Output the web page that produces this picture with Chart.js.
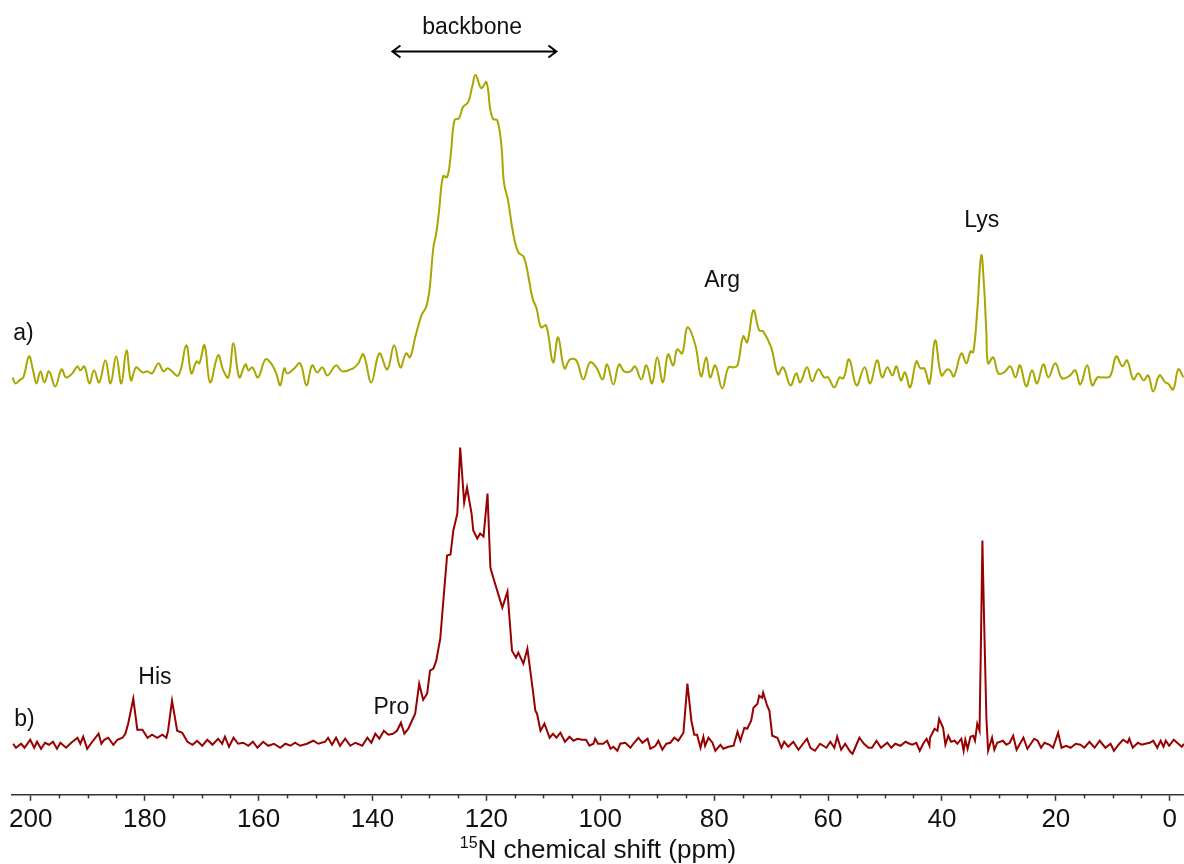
<!DOCTYPE html>
<html>
<head>
<meta charset="utf-8">
<script src="https://cdn.jsdelivr.net/npm/chart.js@4.4.0/dist/chart.umd.min.js"></script>
<style>
  html, body { margin: 0; padding: 0; background: #fff; }
  #wrap { width: 1184px; height: 864px; position: relative; }
</style>
</head>
<body>
<div id="wrap"><canvas id="nmrChart"></canvas></div>
<script>
// spectrum a) - ppm positions and intensities (arbitrary units)
const ppmA = [203.2, 202.7, 201.8, 201.3, 200.3, 199.6, 199.0, 198.3, 197.6, 196.8, 195.7, 194.6, 193.8, 192.7, 191.8, 191.3, 190.6, 189.7, 188.9, 188.0,
  186.9, 186.0, 185.0, 184.1, 183.2, 182.4, 181.5, 180.4, 179.5, 178.7, 177.6, 176.7, 175.9, 174.1, 172.7, 171.8, 170.9, 170.4, 169.5, 168.5,
  167.1, 166.2, 165.3, 164.4, 163.4, 162.3, 161.8, 161.1, 160.1, 158.8, 157.8, 156.9, 156.2, 155.5, 155.0, 153.9, 152.7, 151.6, 150.6, 149.7,
  148.8, 147.9, 146.4, 145.3, 143.4, 142.5, 141.6, 140.2, 138.8, 137.4, 136.2, 135.1, 134.1, 133.4, 132.5, 131.4, 130.6, 130.0, 129.3, 128.8,
  128.3, 127.6, 126.9, 126.3, 125.6, 124.8, 124.1, 123.2, 122.5, 121.9, 120.9, 120.0, 119.3, 118.8, 118.1, 117.4, 116.9, 116.2, 115.3, 114.4,
  113.4, 112.6, 111.9, 111.2, 110.4, 109.5, 108.3, 107.4, 106.3, 105.3, 104.2, 103.0, 101.8, 100.7, 99.6, 98.8, 97.7, 96.7, 95.8, 94.7,
  93.9, 92.8, 91.9, 90.9, 90.0, 89.0, 88.1, 87.2, 86.5, 85.6, 84.7, 83.3, 82.3, 81.4, 80.7, 79.8, 78.6, 77.5, 76.6, 75.9,
  74.9, 74.2, 73.1, 72.1, 71.4, 70.0, 68.8, 67.9, 66.6, 65.6, 64.9, 63.7, 62.8, 61.7, 60.7, 60.0, 58.9, 58.0, 57.3, 56.3,
  55.0, 53.6, 52.6, 51.4, 50.5, 49.6, 48.7, 48.0, 47.2, 46.5, 45.6, 44.5, 43.8, 43.1, 42.2, 41.2, 40.1, 39.1, 38.6, 37.9,
  36.6, 35.7, 35.0, 34.5, 33.8, 33.1, 32.6, 32.2, 31.9, 31.0, 30.1, 29.1, 28.0, 27.1, 26.3, 25.2, 24.2, 23.3, 22.2, 21.3,
  20.1, 18.9, 17.5, 16.6, 15.7, 14.5, 13.6, 12.7, 11.9, 10.5, 9.4, 8.3, 7.5, 6.4, 5.5, 4.6, 3.8, 2.9, 1.8, 0.8,
  0.3, -0.6, -1.5, -2.4];
const intA = [-5, -11, -7, -5, 16, 2, -11, 1, -10, 1, -14, 3, -5, -1, 6, 2, 6, -11, 2, -10,
  12, -11, 16, -11, 22, -8, 5, 0, 1, -1, 9, 1, 4, -3, 27, -1, 11, 9, 27, -10,
  17, 2, -5, 29, -5, 8, 2, 5, -5, 13, 9, -1, -13, 4, -1, 3, 9, -13, 7, 0,
  5, -3, 7, 1, 4, 9, 18, -10, 19, 3, 27, 5, 19, 15, 35, 57, 65, 82, 125, 139,
  162, 196, 195, 215, 252, 254, 265, 270, 285, 297, 284, 290, 262, 253, 252, 229, 189, 172, 139, 120,
  115, 95, 74, 64, 45, 47, 10, 35, 4, 13, 12, -7, 10, 5, -7, 8, -12, 8, 1, 1,
  6, -7, 7, -11, 15, -10, 18, 7, 23, 19, 45, 27, -4, 15, -5, 7, -16, 5, 5, 7,
  36, 30, 62, 42, 41, 25, -2, 5, -13, -1, -10, 5, -9, 3, -5, -5, -15, -5, -6, 13,
  -13, 5, -11, 12, -5, 5, -3, 6, -8, 0, -15, 11, 4, 4, -11, 32, -3, 3, 2, -4,
  19, 9, 21, 20, 62, 117, 85, 39, 9, 15, -1, 0, 6, -5, 7, -14, 2, -11, 8, -5,
  9, -6, -3, 2, -12, 7, -13, -5, -5, -4, 16, 6, 12, -7, -1, -8, -3, -19, -3, -10,
  -11, -17, 3, -5];

// spectrum b)
const ppmB = [203.1, 202.6, 201.7, 201.1, 200.1, 199.4, 198.9, 198.2, 197.5, 196.8, 196.1, 195.4, 194.8, 193.8, 192.9, 191.8, 191.3, 190.8, 190.1, 189.2,
  188.1, 187.6, 187.1, 186.4, 185.5, 184.8, 183.9, 183.4, 182.9, 182.0, 181.3, 180.4, 179.5, 178.7, 177.8, 176.9, 176.2, 175.9, 175.2, 174.3,
  173.4, 172.5, 171.6, 170.8, 169.9, 169.0, 168.1, 167.1, 166.4, 165.9, 165.2, 164.4, 163.6, 162.7, 161.8, 161.0, 160.2, 159.2, 158.3, 157.3,
  156.2, 155.3, 154.4, 153.6, 152.7, 151.5, 150.4, 149.5, 148.3, 147.8, 147.1, 146.4, 145.7, 144.8, 143.9, 143.0, 141.8, 140.9, 140.2, 139.5,
  138.8, 138.0, 137.2, 136.4, 135.7, 135.0, 134.4, 133.7, 133.0, 132.5, 131.8, 131.1, 130.4, 129.9, 129.3, 128.8, 128.1, 127.6, 126.9, 126.3,
  125.8, 125.1, 124.6, 123.9, 123.4, 122.6, 122.3, 121.6, 121.1, 120.5, 119.8, 119.3, 118.8, 118.1, 117.2, 116.3, 115.5, 114.8, 114.4, 113.5,
  112.8, 111.9, 111.4, 111.1, 110.5, 109.8, 108.9, 108.3, 107.7, 107.0, 106.2, 105.4, 104.7, 104.0, 103.2, 102.5, 101.9, 101.2, 100.9, 100.4,
  99.5, 98.8, 98.2, 97.7, 97.0, 96.5, 95.6, 94.7, 94.2, 93.3, 92.6, 91.7, 91.2, 90.3, 89.8, 89.1, 88.4, 87.7, 87.0, 86.3,
  85.4, 84.7, 84.0, 83.5, 83.0, 82.4, 81.9, 81.6, 81.0, 80.3, 79.8, 78.9, 78.4, 77.5, 76.6, 75.9, 75.4, 74.7, 74.2, 73.5,
  73.1, 72.4, 72.1, 71.6, 71.4, 70.7, 70.3, 69.8, 68.9, 68.2, 67.7, 67.0, 66.1, 65.2, 64.4, 63.7, 63.1, 62.3, 61.4, 60.3,
  59.6, 58.9, 58.4, 57.7, 57.0, 56.1, 55.7, 55.1, 54.5, 53.7, 52.9, 52.3, 51.5, 50.7, 49.6, 48.9, 48.2, 47.3, 46.4, 45.7,
  45.2, 44.5, 43.9, 43.3, 42.7, 42.2, 42.1, 41.3, 40.8, 40.5, 39.8, 39.4, 38.9, 38.4, 37.8, 37.3, 36.6, 36.2, 35.9, 35.5,
  35.0, 34.5, 34.2, 33.8, 33.4, 33.1, 32.9, 32.8, 32.6, 32.2, 31.9, 31.2, 30.8, 30.3, 29.3, 28.7, 28.1, 27.5, 26.9, 26.3,
  25.7, 25.0, 24.4, 23.8, 23.2, 22.6, 22.0, 21.1, 20.5, 19.6, 19.0, 18.2, 17.4, 16.5, 15.7, 15.0, 14.1, 13.2, 12.3, 11.3,
  10.4, 9.8, 9.0, 8.2, 7.4, 7.1, 6.5, 5.6, 4.9, 4.3, 3.5, 2.9, 2.2, 1.6, 1.1, 0.7, 0.1, -0.7, -1.3, -2.1,
  -2.5];
const intB = [-1, -5, -1, -5, 3, -5, 1, -6, 0, -2, 1, -6, 0, -5, 0, 5, -1, 6, -6, 1,
  9, -1, 3, 5, -2, 3, 5, 9, 19, 44, 13, 13, 5, 8, 5, 8, 5, 12, 42, 12,
  10, 1, -2, 2, -3, 3, -2, 4, -1, 6, -4, 5, -1, 0, -3, 1, -5, 1, -3, -1,
  -5, -1, -3, 0, -3, -1, 2, -1, 1, 5, -2, 5, -3, 4, -3, 0, -3, 5, 0, 9,
  4, 12, 8, 9, 12, 20, 9, 14, 23, 29, 59, 43, 49, 72, 74, 82, 104, 139, 187, 188,
  212, 229, 295, 240, 255, 229, 212, 204, 209, 206, 249, 175, 165, 152, 135, 151, 92, 85, 90, 79,
  94, 55, 32, 29, 12, 19, 5, 9, 5, 10, 1, 6, 2, 4, 3, 3, -3, -1, 4, -1,
  -1, 2, -6, -4, -8, -1, 0, -5, -1, 5, 0, 4, -6, -3, 2, -7, -1, 0, 5, 2,
  10, 59, 22, 8, 8, -5, 6, -3, 5, 0, -8, -2, -6, -4, -3, 11, 2, 15, 14, 22,
  35, 39, 47, 45, 50, 37, 32, 7, 5, -5, 1, -4, 1, -7, -1, 4, -5, -8, -1, -5,
  1, -5, 6, -7, -1, -9, -11, -3, 5, -1, -5, -5, 2, -5, 0, -5, -1, -3, 1, -1,
  -2, 0, -8, -1, 4, -3, 5, 14, 12, 24, 15, -2, 7, 1, 2, -1, 4, -8, 3, -6,
  6, 7, 2, 19, 12, 122, 202, 202, 122, 25, -8, 5, -7, 0, 2, -2, 0, 7, -7, -1,
  5, -6, -1, 4, 2, -5, 0, -2, -5, 10, -5, -3, -5, -1, -2, -5, 1, -5, 2, -5,
  -1, -8, -2, 3, 0, 4, -5, 0, -2, -1, 0, 2, -5, 2, -4, 2, -3, 3, 0, -4,
  -1];

const tickLabels = [200, 180, 160, 140, 120, 100, 80, 60, 40, 20, 0];

// vertical stacking of the two spectra on the hidden y scale
const offsetA = 422;
const offsetB = 52;

const notes = [
  { text: 'backbone', ppm: 122.5, val: 760, align: 'center' },
  { text: 'Lys', ppm: 33.0, val: 567, align: 'center' },
  { text: 'Arg', ppm: 78.6, val: 507, align: 'center' },
  { text: 'a)', ppm: 203.1, val: 454, align: 'left' },
  { text: 'b)', ppm: 202.9, val: 69, align: 'left' },
  { text: 'His', ppm: 178.2, val: 111, align: 'center' },
  { text: 'Pro', ppm: 136.7, val: 81, align: 'center' }
];
const backboneArrow = { from: 136.5, to: 107.7, val: 742.5 };

const FONT = "'Liberation Sans', Arial, sans-serif";

const overlayPlugin = {
  id: 'overlay',
  afterDraw(chart) {
    const { ctx, scales: { x, y }, chartArea } = chart;
    ctx.save();

    // minor ticks (every 5 ppm)
    ctx.strokeStyle = '#333';
    ctx.lineWidth = 1.5;
    x.ticks.forEach(t => {
      if (t.value % 20 === 0) return;
      const px = Math.round(x.getPixelForValue(t.value)) + 0.5;
      ctx.beginPath();
      ctx.moveTo(px, chartArea.bottom);
      ctx.lineTo(px, chartArea.bottom + 3.5);
      ctx.stroke();
    });

    // axis title with superscript
    const midX = (chartArea.left + chartArea.right) / 2;
    const baseY = 858;
    ctx.fillStyle = '#111';
    ctx.textBaseline = 'alphabetic';
    ctx.textAlign = 'left';
    ctx.font = '16px ' + FONT;
    const supW = ctx.measureText('15').width;
    ctx.font = '26px ' + FONT;
    const mainTxt = 'N chemical shift (ppm)';
    const mainW = ctx.measureText(mainTxt).width;
    const startX = midX - (supW + mainW) / 2;
    ctx.font = '16px ' + FONT;
    ctx.fillText('15', startX, baseY - 10);
    ctx.font = '26px ' + FONT;
    ctx.fillText(mainTxt, startX + supW, baseY);

    // peak labels
    ctx.font = '23px ' + FONT;
    notes.forEach(n => {
      ctx.textAlign = n.align;
      ctx.fillText(n.text, x.getPixelForValue(n.ppm), y.getPixelForValue(n.val));
    });

    // double-headed arrow over the backbone region
    const x1 = x.getPixelForValue(backboneArrow.from);
    const x2 = x.getPixelForValue(backboneArrow.to);
    const ay = y.getPixelForValue(backboneArrow.val);
    ctx.strokeStyle = '#000';
    ctx.lineWidth = 2;
    ctx.beginPath();
    ctx.moveTo(x1, ay);
    ctx.lineTo(x2, ay);
    ctx.moveTo(x1 + 8, ay - 6);
    ctx.lineTo(x1, ay);
    ctx.lineTo(x1 + 8, ay + 6);
    ctx.moveTo(x2 - 8, ay - 6);
    ctx.lineTo(x2, ay);
    ctx.lineTo(x2 - 8, ay + 6);
    ctx.stroke();

    ctx.restore();
  }
};

document.addEventListener('DOMContentLoaded', function() {
  const ctx = document.getElementById('nmrChart').getContext('2d');
  new Chart(ctx, {
    type: 'line',
    data: {
      datasets: [{
        label: 'a)',
        data: ppmA.map((p, i) => ({ x: p, y: intA[i] + offsetA })),
        borderColor: '#a8a600',
        borderWidth: 2,
        pointRadius: 0,
        tension: 0.4,
        fill: false
      }, {
        label: 'b)',
        data: ppmB.map((p, i) => ({ x: p, y: intB[i] + offsetB })),
        borderColor: '#990000',
        borderWidth: 2,
        pointRadius: 0,
        tension: 0,
        fill: false
      }]
    },
    options: {
      responsive: true,
      maintainAspectRatio: false,
      animation: false,
      layout: { padding: { left: 12, right: 0, top: 0, bottom: 26 } },
      plugins: {
        legend: { display: false },
        tooltip: { enabled: false }
      },
      scales: {
        x: {
          type: 'linear',
          reverse: true,
          min: -2.5,
          max: 203.3,
          afterBuildTicks: scale => {
            const ticks = [];
            for (let v = 0; v <= 200; v += 5) ticks.push({ value: v });
            scale.ticks = ticks;
          },
          afterFit: scale => {
            scale.paddingLeft = 0;
            scale.paddingRight = 0;
          },
          ticks: {
            autoSkip: false,
            maxRotation: 0,
            padding: 3,
            color: '#111',
            font: { size: 26, family: FONT },
            callback: v => tickLabels.includes(v) ? String(v) : ''
          },
          grid: {
            drawOnChartArea: false,
            drawTicks: true,
            tickLength: 6,
            tickWidth: 1.5,
            tickColor: c => (c.tick && c.tick.value % 20 === 0) ? '#333' : 'rgba(0,0,0,0)'
          },
          border: { display: true, color: '#333', width: 1.5 }
        },
        y: {
          display: false,
          min: 0,
          max: 794
        }
      }
    },
    plugins: [overlayPlugin]
  });
});
</script>
</body>
</html>
